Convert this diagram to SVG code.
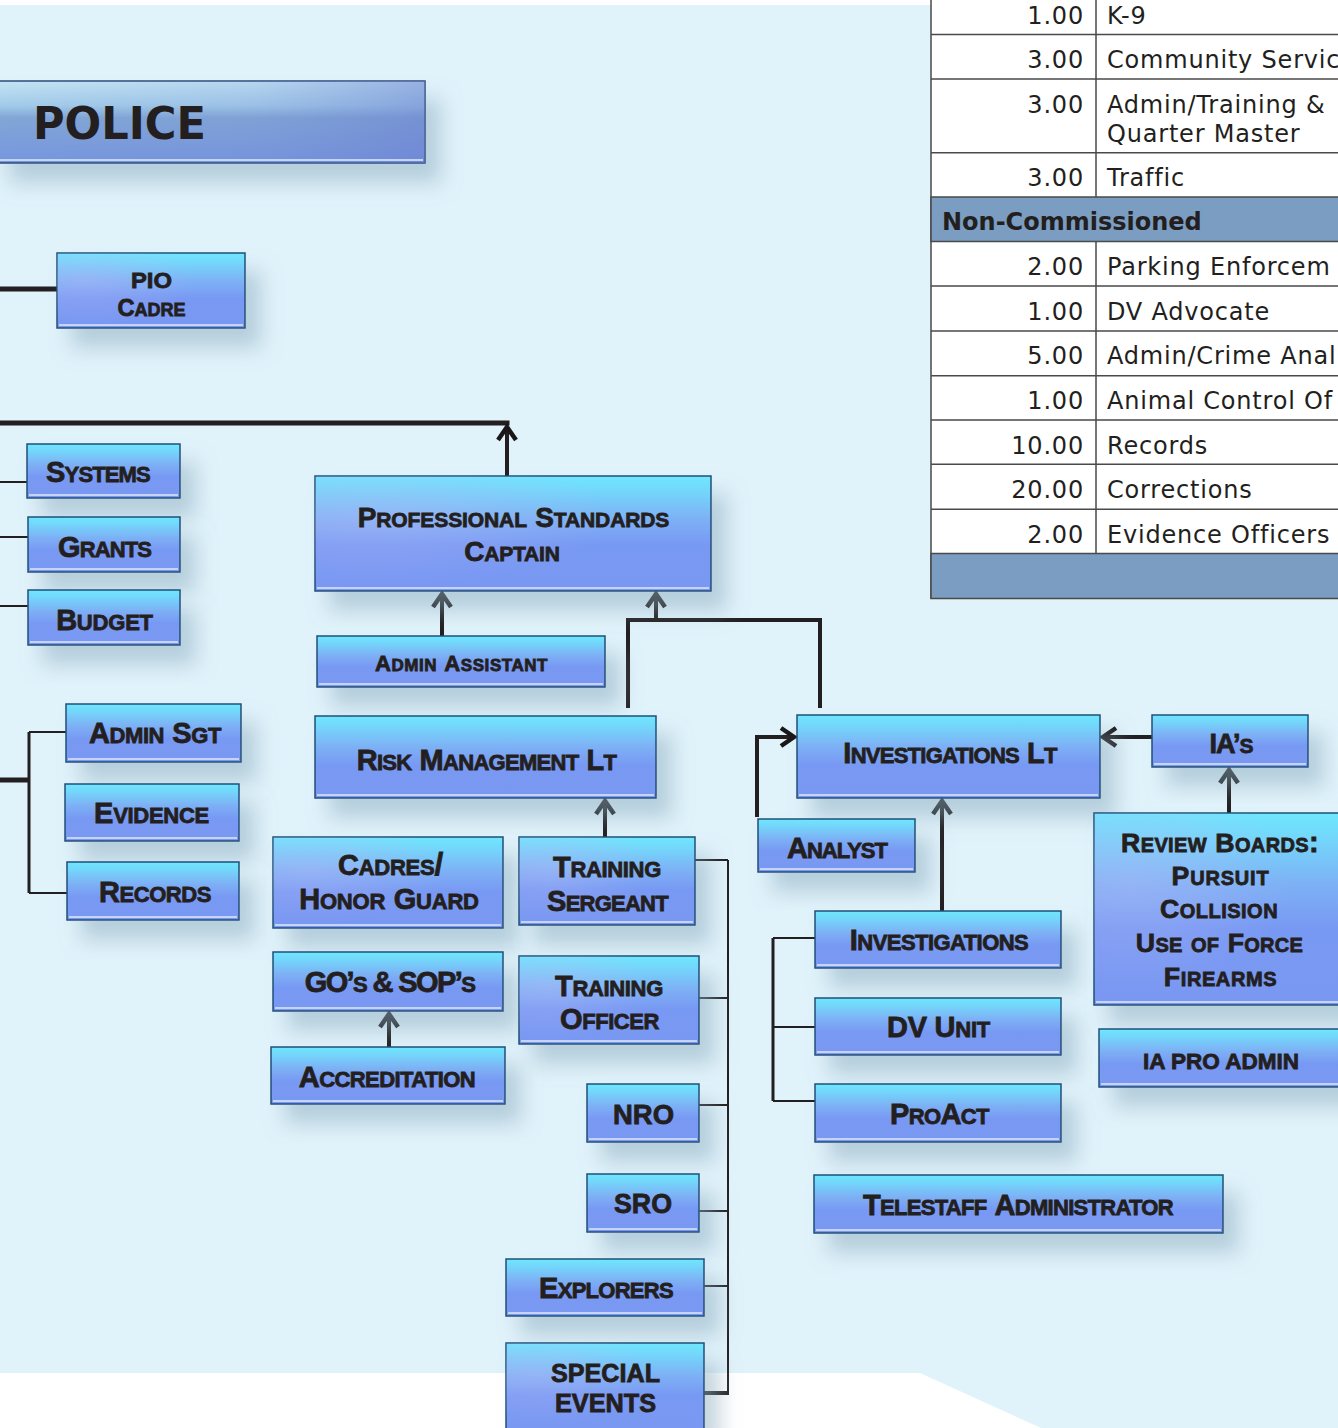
<svg xmlns="http://www.w3.org/2000/svg" width="1338" height="1428" viewBox="0 0 1338 1428">
<defs>
<style>
.bx{fill:url(#g);stroke:#1F4F7A;stroke-width:1.5;filter:url(#sh)}
.hl{stroke:#C6D3FA;stroke-width:2}
.t{font-family:"Liberation Sans",Arial,sans-serif;font-weight:bold;font-variant:small-caps;fill:#231F20;stroke:#231F20;stroke-width:0.8;text-anchor:middle}
.u{font-size:0.92em}
.s29{font-size:31.5px}
.s28{font-size:30.4px}
.s22{font-size:24px}
.s25{font-size:29px}
.s24{font-size:25.6px}
.a28{font-size:28px;font-variant:normal}
.a25{font-size:25px;font-variant:normal}
.a22{font-size:22px;font-variant:normal}
.k{stroke:#231F20;stroke-width:4;fill:none}
.k5{stroke:#231F20;stroke-width:5;fill:none}
.th{stroke:#231F20;stroke-width:2;fill:none}
.th3{stroke:#231F20;stroke-width:3;fill:none}
.tl{stroke:#4A4A4A;stroke-width:1.5;fill:none}
.tb{font-family:"DejaVu Sans",sans-serif;font-size:24px;letter-spacing:0.8px;fill:#231F20}
.tn{text-anchor:end}
.hd{font-weight:bold;letter-spacing:0}
</style>
<linearGradient id="g" x1="0" y1="0" x2="0" y2="1">
<stop offset="0" stop-color="#6EE7FD"/>
<stop offset="0.12" stop-color="#73D8FB"/>
<stop offset="0.38" stop-color="#7DB0F5"/>
<stop offset="0.6" stop-color="#7899F3"/>
<stop offset="1" stop-color="#7A98F2"/>
</linearGradient>
<radialGradient id="gl" cx="0.15" cy="0.35" r="0.6">
<stop offset="0" stop-color="#B8B8F6" stop-opacity="0.4"/>
<stop offset="1" stop-color="#B8B8F6" stop-opacity="0"/>
</radialGradient>
<linearGradient id="gp" x1="0" y1="0" x2="0" y2="1">
<stop offset="0" stop-color="#C4E4F4"/>
<stop offset="0.3" stop-color="#A2CBE9"/>
<stop offset="0.45" stop-color="#82A6D6"/>
<stop offset="1" stop-color="#7696DE"/>
</linearGradient>
<linearGradient id="gpx" x1="0" y1="0" x2="1" y2="0">
<stop offset="0" stop-color="#6F84D2" stop-opacity="0"/>
<stop offset="0.6" stop-color="#6F84D2" stop-opacity="0.15"/>
<stop offset="1" stop-color="#6A7DD0" stop-opacity="0.5"/>
</linearGradient>
<filter id="sh" x="-25%" y="-30%" width="160%" height="200%">
<feDropShadow dx="15" dy="19" stdDeviation="10" flood-color="#8AAABE" flood-opacity="0.5"/>
</filter>
<marker id="ah" viewBox="-17 -12 21 24" refX="0" refY="0" markerWidth="21" markerHeight="24" markerUnits="userSpaceOnUse" orient="auto">
<path d="M-13,-9 L0,0 L-13,9" fill="none" stroke="#1A1718" stroke-width="4.5" stroke-linecap="butt" stroke-linejoin="miter"/>
</marker>
</defs>

<g id="background">
<rect x="0" y="0" width="1338" height="1428" fill="#FFFFFF"/>
<path d="M0,5 H1338 V1428 H1041 L920,1373 H0 Z" fill="#E0F2FA"/>
</g>

<g id="table">
<rect x="931" y="-2" width="410" height="600" fill="#FFFFFF" stroke="#4A4A4A" stroke-width="1.5"/>
<rect x="931" y="197" width="410" height="44.5" fill="#7B9DC2" stroke="#4A4A4A" stroke-width="1.5"/>
<rect x="931" y="553.5" width="410" height="45" fill="#7B9DC2" stroke="#4A4A4A" stroke-width="1.5"/>
<path class="tl" d="M931,34.5 H1338 M931,79 H1338 M931,152.7 H1338 M931,286 H1338 M931,331 H1338 M931,375.7 H1338 M931,420 H1338 M931,464.3 H1338 M931,509.3 H1338"/>
<path class="tl" d="M1096,-2 V197 M1096,241.5 V553.5"/>
<text class="tb tn" x="1084" y="24">1.00</text>
<text class="tb" x="1107" y="24">K-9</text>
<text class="tb tn" x="1084" y="68">3.00</text>
<text class="tb" x="1107" y="68">Community Servic</text>
<text class="tb tn" x="1084" y="113">3.00</text>
<text class="tb" x="1107" y="113">Admin/Training &amp;</text>
<text class="tb" x="1107" y="142">Quarter Master</text>
<text class="tb tn" x="1084" y="186">3.00</text>
<text class="tb" x="1107" y="186">Traffic</text>
<text class="tb hd" x="942" y="230">Non-Commissioned</text>
<text class="tb tn" x="1084" y="275">2.00</text>
<text class="tb" x="1107" y="275">Parking Enforcem</text>
<text class="tb tn" x="1084" y="320">1.00</text>
<text class="tb" x="1107" y="320">DV Advocate</text>
<text class="tb tn" x="1084" y="364">5.00</text>
<text class="tb" x="1107" y="364">Admin/Crime Anal</text>
<text class="tb tn" x="1084" y="409">1.00</text>
<text class="tb" x="1107" y="409">Animal Control Of</text>
<text class="tb tn" x="1084" y="454">10.00</text>
<text class="tb" x="1107" y="454">Records</text>
<text class="tb tn" x="1084" y="498">20.00</text>
<text class="tb" x="1107" y="498">Corrections</text>
<text class="tb tn" x="1084" y="543">2.00</text>
<text class="tb" x="1107" y="543">Evidence Officers</text>
</g>

<g id="connectors">
<path class="k5" d="M0,289 H57"/>
<path class="k5" d="M0,423 H509.5"/>
<path class="k" d="M507,476 V427" marker-end="url(#ah)"/>
<path class="th" d="M0,482 H27 M0,537 H28 M0,606 H28"/>
<path class="k" d="M442,636 V594" marker-end="url(#ah)"/>
<path class="k" d="M628,708 V620 H820 V708"/>
<path class="k" d="M656,620 V594" marker-end="url(#ah)"/>
<path class="k" d="M605,838 V801" marker-end="url(#ah)"/>
<path class="k5" d="M0,780 H29"/>
<path class="th3" d="M29,732 V893"/>
<path class="th" d="M29,732 H66 M29,893 H67"/>
<path class="k" d="M389,1047 V1014" marker-end="url(#ah)"/>
<path class="th" d="M728,860 V1394"/>
<path class="th" d="M690,860 H728 M699,998 H728 M699,1105 H728 M699,1211 H728 M704,1286 H728"/>
<path class="k" d="M704,1393 H729"/>
<path class="k" d="M757,817 V737 H794" marker-end="url(#ah)"/>
<path class="k" d="M1152,737 H1103" marker-end="url(#ah)"/>
<path class="k" d="M942,911 V801" marker-end="url(#ah)"/>
<path class="k" d="M1229,813 V770" marker-end="url(#ah)"/>
<path class="th3" d="M773,938 V1101"/>
<path class="th" d="M773,938 H815 M773,1027 H815 M773,1101 H815"/>
</g>

<g id="police">
<rect x="-5" y="81" width="430" height="82" fill="url(#gp)" stroke="#2B4A7A" stroke-width="1.5" filter="url(#sh)"/>
<rect x="-5" y="81" width="430" height="82" fill="url(#gpx)"/>
<line class="hl" x1="0" y1="160" x2="423" y2="160"/>
<text x="33" y="139" textLength="173" lengthAdjust="spacingAndGlyphs" style="font-family:'DejaVu Sans',sans-serif;font-weight:bold;font-size:44px;fill:#231F20">POLICE</text>
</g>

<g id="pio-cadre">
<rect class="bx" x="57" y="253" width="188" height="75"/>
<rect x="57" y="253" width="188" height="75" fill="url(#gl)"/>
<line class="hl" x1="59" y1="325" x2="243" y2="325"/>
<text class="t a22" x="151.5" y="288" textLength="41" lengthAdjust="spacingAndGlyphs">PIO</text>
<text class="t s24" x="151.5" y="316"><tspan class="u">C</tspan>adre</text>
</g>

<g id="systems">
<rect class="bx" x="27" y="444" width="153" height="54"/>
<line class="hl" x1="29" y1="495" x2="178" y2="495"/>
<text class="t s29" x="98" y="482" style="letter-spacing:-0.86px"><tspan class="u">S</tspan>ystems</text>
</g>

<g id="grants">
<rect class="bx" x="28" y="517" width="152" height="55"/>
<line class="hl" x1="30" y1="569" x2="178" y2="569"/>
<text class="t s29" x="104.5" y="557" style="letter-spacing:-0.9px"><tspan class="u">G</tspan>rants</text>
</g>

<g id="budget">
<rect class="bx" x="28" y="590" width="152" height="55"/>
<line class="hl" x1="30" y1="642" x2="178" y2="642"/>
<text class="t s29" x="104.5" y="630" style="letter-spacing:-0.2px"><tspan class="u">B</tspan>udget</text>
</g>

<g id="professional-standards-captain">
<rect class="bx" x="315" y="476" width="396" height="115"/>
<rect x="315" y="476" width="396" height="115" fill="url(#gl)"/>
<line class="hl" x1="317" y1="588" x2="709" y2="588"/>
<text class="t s28" x="513.5" y="527" style="letter-spacing:-0.1px"><tspan class="u">P</tspan>rofessional <tspan class="u">S</tspan>tandards</text>
<text class="t s28" x="512" y="561" style="letter-spacing:-0.2px"><tspan class="u">C</tspan>aptain</text>
</g>

<g id="admin-assistant">
<rect class="bx" x="317" y="636" width="288" height="51"/>
<line class="hl" x1="319" y1="684" x2="603" y2="684"/>
<text class="t s22" x="461.5" y="671" style="letter-spacing:0.55px"><tspan class="u">A</tspan>dmin <tspan class="u">A</tspan>ssistant</text>
</g>

<g id="risk-management-lt">
<rect class="bx" x="315" y="716" width="341" height="82"/>
<line class="hl" x1="317" y1="795" x2="654" y2="795"/>
<text class="t s29" x="486.5" y="770" style="letter-spacing:-0.7px"><tspan class="u">R</tspan>isk <tspan class="u">M</tspan>anagement <tspan class="u">L</tspan>t</text>
</g>

<g id="admin-sgt">
<rect class="bx" x="66" y="704" width="175" height="58"/>
<line class="hl" x1="68" y1="759" x2="239" y2="759"/>
<text class="t s29" x="155" y="743" style="letter-spacing:-0.43px"><tspan class="u">A</tspan>dmin <tspan class="u">S</tspan>gt</text>
</g>

<g id="evidence">
<rect class="bx" x="65" y="784" width="174" height="57"/>
<line class="hl" x1="67" y1="838" x2="237" y2="838"/>
<text class="t s29" x="151.5" y="823" style="letter-spacing:-0.29px"><tspan class="u">E</tspan>vidence</text>
</g>

<g id="records">
<rect class="bx" x="67" y="862" width="172" height="58"/>
<line class="hl" x1="69" y1="917" x2="237" y2="917"/>
<text class="t s29" x="155" y="902" style="letter-spacing:-0.46px"><tspan class="u">R</tspan>ecords</text>
</g>

<g id="cadres-honor-guard">
<rect class="bx" x="273" y="837" width="230" height="91"/>
<rect x="273" y="837" width="230" height="91" fill="url(#gl)"/>
<line class="hl" x1="275" y1="925" x2="501" y2="925"/>
<text class="t s29" x="390.5" y="875" style="letter-spacing:-0.27px"><tspan class="u">C</tspan>adres/</text>
<text class="t s29" x="389" y="909" style="letter-spacing:-0.2px"><tspan class="u">H</tspan>onor <tspan class="u">G</tspan>uard</text>
</g>

<g id="training-sergeant">
<rect class="bx" x="519" y="837" width="176" height="88"/>
<rect x="519" y="837" width="176" height="88" fill="url(#gl)"/>
<line class="hl" x1="521" y1="922" x2="693" y2="922"/>
<text class="t s29" x="607" y="877" style="letter-spacing:-0.35px"><tspan class="u">T</tspan>raining</text>
<text class="t s29" x="607.5" y="911" style="letter-spacing:-0.76px"><tspan class="u">S</tspan>ergeant</text>
</g>

<g id="gos-sops">
<rect class="bx" x="273" y="952" width="230" height="59"/>
<line class="hl" x1="275" y1="1008" x2="501" y2="1008"/>
<text class="t s29" x="389.5" y="992" style="letter-spacing:-1.6px"><tspan class="u">GO’</tspan>s<tspan class="u"> &amp; SOP’</tspan>s</text>
</g>

<g id="training-officer">
<rect class="bx" x="519" y="956" width="180" height="88"/>
<rect x="519" y="956" width="180" height="88" fill="url(#gl)"/>
<line class="hl" x1="521" y1="1041" x2="697" y2="1041"/>
<text class="t s29" x="609" y="996" style="letter-spacing:-0.35px"><tspan class="u">T</tspan>raining</text>
<text class="t s29" x="609.5" y="1029" style="letter-spacing:-0.46px"><tspan class="u">O</tspan>fficer</text>
</g>

<g id="accreditation">
<rect class="bx" x="271" y="1047" width="234" height="57"/>
<line class="hl" x1="273" y1="1101" x2="503" y2="1101"/>
<text class="t s29" x="387" y="1087" style="letter-spacing:-0.58px"><tspan class="u">A</tspan>ccreditation</text>
</g>

<g id="nro">
<rect class="bx" x="587" y="1084" width="112" height="58"/>
<line class="hl" x1="589" y1="1139" x2="697" y2="1139"/>
<text class="t a28" x="643.5" y="1124" textLength="61" lengthAdjust="spacingAndGlyphs">NRO</text>
</g>

<g id="sro">
<rect class="bx" x="587" y="1174" width="112" height="58"/>
<line class="hl" x1="589" y1="1229" x2="697" y2="1229"/>
<text class="t a28" x="643" y="1213" textLength="58" lengthAdjust="spacingAndGlyphs">SRO</text>
</g>

<g id="explorers">
<rect class="bx" x="506" y="1259" width="198" height="57"/>
<line class="hl" x1="508" y1="1313" x2="702" y2="1313"/>
<text class="t s29" x="606" y="1298" style="letter-spacing:-0.73px"><tspan class="u">E</tspan>xplorers</text>
</g>

<g id="special-events">
<rect class="bx" x="506" y="1343" width="198" height="87"/>
<rect x="506" y="1343" width="198" height="87" fill="url(#gl)"/>
<text class="t a25" x="605.5" y="1382" textLength="109" lengthAdjust="spacingAndGlyphs">SPECIAL</text>
<text class="t a25" x="605.5" y="1412" textLength="101" lengthAdjust="spacingAndGlyphs">EVENTS</text>
</g>

<g id="investigations-lt">
<rect class="bx" x="797" y="715" width="303" height="83"/>
<line class="hl" x1="799" y1="795" x2="1098" y2="795"/>
<text class="t s29" x="950" y="763" style="letter-spacing:-0.75px"><tspan class="u">I</tspan>nvestigations <tspan class="u">L</tspan>t</text>
</g>

<g id="ias">
<rect class="bx" x="1152" y="715" width="156" height="52"/>
<line class="hl" x1="1154" y1="764" x2="1306" y2="764"/>
<text class="t" x="1231" y="753" style="font-size:29.5px;letter-spacing:-1.1px"><tspan class="u">IA’</tspan>s</text>
</g>

<g id="analyst">
<rect class="bx" x="758" y="819" width="157" height="53"/>
<line class="hl" x1="760" y1="869" x2="913" y2="869"/>
<text class="t s29" x="837" y="858" style="letter-spacing:-1px"><tspan class="u">A</tspan>nalyst</text>
</g>

<g id="review-boards">
<rect class="bx" x="1094" y="813" width="260" height="192"/>
<rect x="1094" y="813" width="260" height="192" fill="url(#gl)"/>
<line class="hl" x1="1096" y1="1002" x2="1338" y2="1002"/>
<text class="t s25" x="1220" y="852" style="letter-spacing:0.35px"><tspan class="u">R</tspan>eview <tspan class="u">B</tspan>oards:</text>
<text class="t s25" x="1220.5" y="885" style="letter-spacing:0.8px"><tspan class="u">P</tspan>ursuit</text>
<text class="t s25" x="1219" y="918" style="letter-spacing:0.5px"><tspan class="u">C</tspan>ollision</text>
<text class="t s25" x="1219.5" y="952" style="letter-spacing:0.28px"><tspan class="u">U</tspan>se of <tspan class="u">F</tspan>orce</text>
<text class="t s25" x="1220.5" y="986" style="letter-spacing:0.6px"><tspan class="u">F</tspan>irearms</text>
</g>

<g id="investigations">
<rect class="bx" x="815" y="911" width="246" height="57"/>
<line class="hl" x1="817" y1="965" x2="1059" y2="965"/>
<text class="t s29" x="939" y="950" style="letter-spacing:-0.56px"><tspan class="u">I</tspan>nvestigations</text>
</g>

<g id="dv-unit">
<rect class="bx" x="815" y="998" width="246" height="57"/>
<line class="hl" x1="817" y1="1052" x2="1059" y2="1052"/>
<text class="t s29" x="938.5" y="1037" style="letter-spacing:-0.24px"><tspan class="u">DV U</tspan>nit</text>
</g>

<g id="proact">
<rect class="bx" x="815" y="1084" width="246" height="58"/>
<line class="hl" x1="817" y1="1139" x2="1059" y2="1139"/>
<text class="t s29" x="939.5" y="1124" style="letter-spacing:-0.62px"><tspan class="u">P</tspan>ro<tspan class="u">A</tspan>ct</text>
</g>

<g id="ia-pro-admin">
<rect class="bx" x="1099" y="1029" width="260" height="58"/>
<line class="hl" x1="1101" y1="1084" x2="1338" y2="1084"/>
<text class="t a22" x="1221" y="1069" textLength="156" lengthAdjust="spacingAndGlyphs">IA PRO ADMIN</text>
</g>

<g id="telestaff-administrator">
<rect class="bx" x="814" y="1175" width="409" height="58"/>
<line class="hl" x1="816" y1="1230" x2="1221" y2="1230"/>
<text class="t s29" x="1018" y="1215" style="letter-spacing:-0.7px"><tspan class="u">T</tspan>elestaff <tspan class="u">A</tspan>dministrator</text>
</g>
</svg>
